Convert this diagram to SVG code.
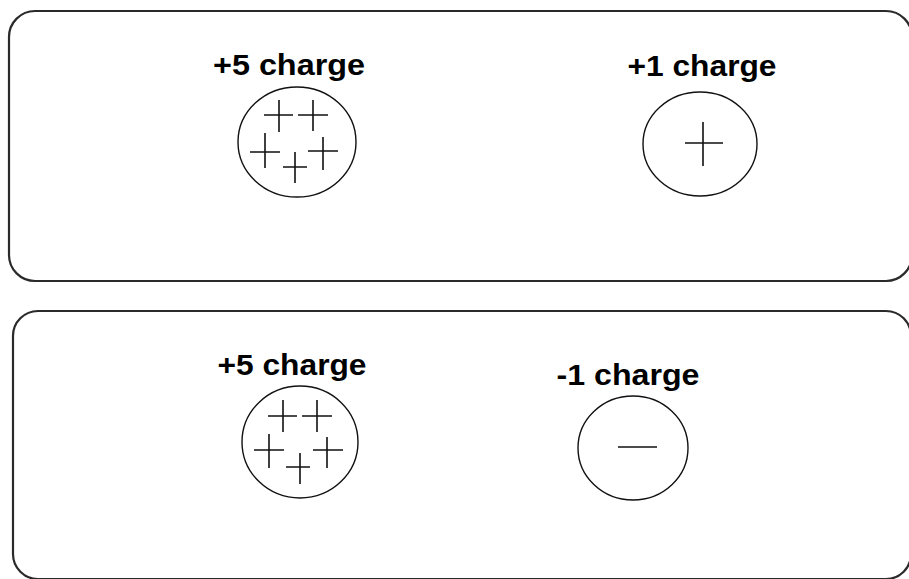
<svg xmlns="http://www.w3.org/2000/svg" width="909" height="579" viewBox="0 0 909 579">
<style>
.box{fill:none;stroke:#2a2a2a;stroke-width:2.2}
.ring{fill:none;stroke:#111;stroke-width:1.4}
.sign{fill:none;stroke:#111;stroke-width:1.6}
.lbl{font-family:"Liberation Sans",Arial,sans-serif;font-weight:bold;font-size:29px;fill:#000;text-anchor:middle}
</style>
<rect width="909" height="579" fill="#fff"/>
<g id="panel-top">
<rect class="box" x="9" y="11" width="903" height="270" rx="26" ry="26"/>
</g>
<g id="panel-bottom">
<rect class="box" x="13" y="311" width="898" height="268" rx="25" ry="25"/>
</g>
<g id="charge-plus5-top">
<text class="lbl" x="289" y="75" textLength="152" lengthAdjust="spacingAndGlyphs">+5 charge</text>
<ellipse class="ring" cx="297" cy="142" rx="59" ry="55"/>
<path class="sign" d="M264 115H293M279 100V132M298 115H328M313 100V131M250 152H280M265 133V168M283 167H307M295 152V183M308 151H338M323 137V170"/>
</g>
<g id="charge-plus1">
<text class="lbl" x="702" y="76" textLength="149" lengthAdjust="spacingAndGlyphs">+1 charge</text>
<ellipse class="ring" cx="700" cy="144" rx="57" ry="52"/>
<path class="sign" d="M685 143H723M703 122V166"/>
</g>
<g id="charge-plus5-bottom">
<text class="lbl" x="292" y="375" textLength="149" lengthAdjust="spacingAndGlyphs">+5 charge</text>
<ellipse class="ring" cx="300" cy="442" rx="58" ry="56"/>
<path class="sign" d="M268 416H297M283 400V432M302 416H332M317 400V432M254 450H284M269 434V468M286 467H310M300 453V484M313 450H343M327 437V468"/>
</g>
<g id="charge-minus1">
<text class="lbl" x="628" y="385" textLength="143" lengthAdjust="spacingAndGlyphs">-1 charge</text>
<ellipse class="ring" cx="633" cy="448" rx="55" ry="52"/>
<path class="sign" d="M618 447H657"/>
</g>
<g id="connectors"></g>
</svg>
